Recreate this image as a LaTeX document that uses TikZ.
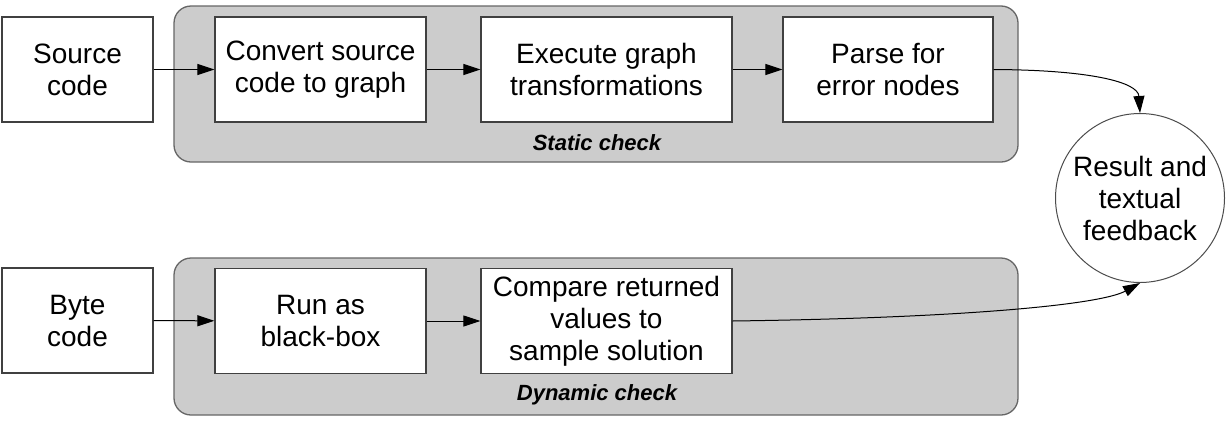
\documentclass[tikz,border=0pt]{standalone}
\usepackage{fontspec}
\setmainfont{Liberation Sans}
\usetikzlibrary{arrows.meta}
\definecolor{panelgray}{RGB}{204,204,204}
\definecolor{edgegray}{RGB}{64,64,64}

\begin{document}
\begin{tikzpicture}[x=1pt,y=-1pt,>={Triangle[length=17pt,width=11pt]},
  box/.style={draw=edgegray,line width=1.3pt,fill=white,align=center,inner sep=2pt,minimum height=105pt,font=\fontsize{28}{32}\selectfont},
  panel/.style={draw=black!60,line width=1.3pt,fill=panelgray,rounded corners=17pt,minimum width=844pt},
  caption/.style={font=\fontsize{22}{26}\selectfont\bfseries\itshape},
  flow/.style={->,line width=1pt}]
  \useasboundingbox (0,0) rectangle (1228,421);

  % Panels
  \node[panel,minimum height=156pt] (static) at (596,84) {};
  \node[panel,minimum height=157pt] (dynamic) at (596,336.5) {};
  \node[caption] (staticlbl) at (597,143) {Static check};
  \node[caption] (dynamiclbl) at (597,395) {Dynamic check};

  % Static branch
  \node[box,minimum width=151pt] (src) at (77.5,69.5) {Source\\code};
  \node[box,minimum width=211pt] (conv) at (320.5,69.5) {Convert source\\code to graph};
  \node[box,minimum width=251pt] (exec) at (606.5,69.5) {Execute graph\\transformations};
  \node[box,minimum width=210pt] (parse) at (888,69.5) {Parse for\\error nodes};

  % Dynamic branch
  \node[box,minimum width=151pt] (byte) at (77.5,320.5) {Byte\\code};
  \node[box,minimum width=211pt] (run) at (320.5,321) {Run as\\black-box};
  \node[box,minimum width=251pt] (cmp) at (606.5,321) {Compare returned\\values to\\sample solution};

  % Result
  \node[box,circle,draw=black!70,line width=1pt,minimum size=169pt,inner sep=0pt] (res) at (1140,198) {Result and\\textual\\feedback};

  % Flows
  \draw[flow] (src) -- (conv);
  \draw[flow] (conv) -- (exec);
  \draw[flow] (exec) -- (parse);
  \draw[flow] (byte) -- (run);
  \draw[flow] (run) -- (cmp);

  % Into the result
  \draw[flow] (parse.east) .. controls (1090,70) and (1138,82) .. (res.north);
  \draw[flow] (cmp.east) .. controls (960,318) and (1100,305) .. (res.south);
\end{tikzpicture}
\end{document}
